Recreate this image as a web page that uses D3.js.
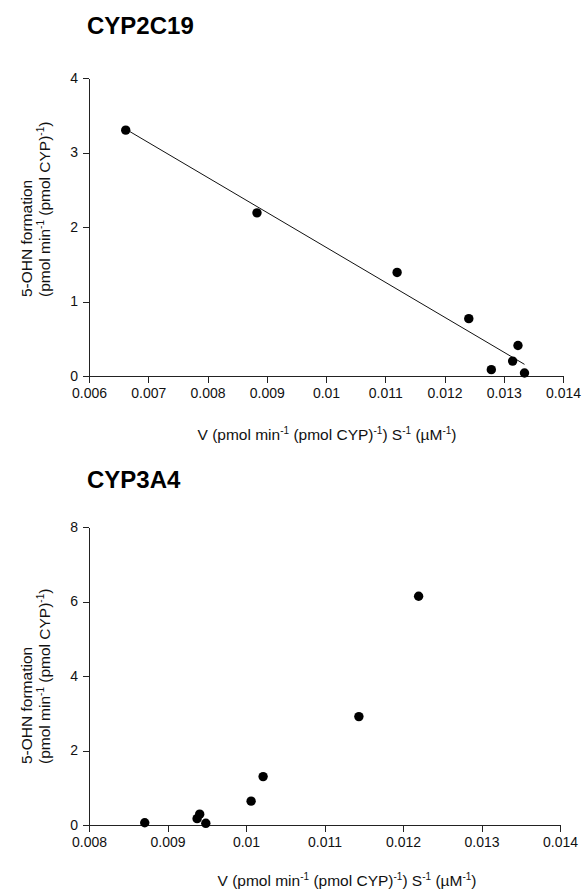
<!DOCTYPE html>
<html>
<head>
    <meta charset="utf-8">
    <style>
        body { margin: 0; background: #fff; }
        svg { font-family: 'Liberation Sans', Arial, sans-serif; }
        .axis path, .axis line { stroke: #222; stroke-width: 1; shape-rendering: crispEdges; }
        .axis text { font-size: 14px; fill: #111; }
        .title { font-size: 24px; font-weight: bold; fill: #000; }
        .lab { font-size: 15.5px; fill: #111; }
    </style>
</head>
<body>
<svg width="584" height="891"></svg>

<script src="https://d3js.org/d3.v7.min.js"></script>
<script>
    // CYP2C19 panel
    let x2c19 = [0.00662, 0.008835, 0.0112, 0.01241, 0.01324, 0.01315, 0.01279, 0.01335]
    let y2c19 = [3.30, 2.19, 1.39, 0.77, 0.41, 0.20, 0.085, 0.04]
    let xTicks2c19 = [0.006, 0.007, 0.008, 0.009, 0.01, 0.011, 0.012, 0.013, 0.014]
    let yTicks2c19 = [0, 1, 2, 3, 4]

    // CYP3A4 panel
    let x3a4 = [0.00871, 0.00941, 0.009377, 0.009488, 0.010065, 0.010218, 0.011438, 0.012199]
    let y3a4 = [0.06, 0.29, 0.17, 0.045, 0.64, 1.30, 2.91, 6.14]
    let xTicks3a4 = [0.008, 0.009, 0.01, 0.011, 0.012, 0.013, 0.014]
    let yTicks3a4 = [0, 2, 4, 6, 8]

    let svg = d3.select("svg")

    // label pieces, 1 = superscript
    let yLine2 = [["(pmol min", 0], ["-1", 1], [" (pmol CYP)", 0], ["-1", 1], [")", 0]]
    let xLabel = [["V (pmol min", 0], ["-1", 1], [" (pmol CYP)", 0], ["-1", 1], [") S", 0], ["-1", 1], [" (\u00b5M", 0], ["-1", 1], [")", 0]]

    function writeParts(txt, parts) {
        let raised = false
        parts.forEach(p => {
            let dy = 0
            if (p[1] && !raised) dy = -6
            if (!p[1] && raised) dy = 6
            raised = !!p[1]
            txt.append("tspan")
                .text(p[0])
                .style("font-size", p[1] ? "10px" : null)
                .attr("dy", dy)
        })
    }

    function drawPanel(cfg) {
        let x = d3.scaleLinear().domain(cfg.xDomain).range([89, cfg.xRight])
        let y = d3.scaleLinear().domain(cfg.yDomain).range([cfg.yBottom, cfg.yTop])

        let g = svg.append("g")

        g.append("g")
            .attr("class", "axis")
            .attr("transform", `translate(0,${cfg.yBottom})`)
            .call(d3.axisBottom(x).tickValues(cfg.xTicks).tickSize(7).tickSizeOuter(0).tickPadding(5)
                .tickFormat(d => String(+d.toFixed(3))))

        g.append("g")
            .attr("class", "axis")
            .attr("transform", "translate(89,0)")
            .call(d3.axisLeft(y).tickValues(cfg.yTicks).tickSize(6).tickSizeOuter(0).tickPadding(5)
                .tickFormat(d => String(d)))

        g.selectAll(".axis .domain").attr("fill", "none")

        g.append("text")
            .attr("class", "title")
            .attr("x", 87)
            .attr("y", cfg.titleY)
            .text(cfg.title)

        // y label, two lines, start anchored
        g.append("text")
            .attr("class", "lab")
            .attr("transform", `translate(32,${cfg.yLabStart}) rotate(-90)`)
            .text("5-OHN formation")
        let l2 = g.append("text")
            .attr("class", "lab")
            .attr("transform", `translate(50,${cfg.yLabStart}) rotate(-90)`)
        writeParts(l2, yLine2)

        let xl = g.append("text")
            .attr("class", "lab")
            .attr("text-anchor", "middle")
            .attr("x", cfg.xLabX)
            .attr("y", cfg.xLabY)
        writeParts(xl, xLabel)

        if (cfg.fit) {
            // least squares line
            let mx = d3.mean(cfg.xs), my = d3.mean(cfg.ys)
            let sxy = d3.sum(cfg.xs, (v, i) => (v - mx) * (cfg.ys[i] - my))
            let sxx = d3.sum(cfg.xs, v => (v - mx) * (v - mx))
            let slope = sxy / sxx
            let icpt = my - slope * mx
            let ext = d3.extent(cfg.xs)
            g.append("path")
                .datum(ext)
                .attr("d", d3.line().x(d => x(d)).y(d => y(icpt + slope * d)))
                .style("fill", "none")
                .style("stroke", "#111")
                .style("stroke-width", 1)
        }

        g.selectAll(".dot")
            .data(cfg.xs.map((v, i) => [v, cfg.ys[i]]))
            .join("circle")
            .attr("cx", d => x(d[0]))
            .attr("cy", d => y(d[1]))
            .attr("r", 4.7)
            .style("fill", "#000")
    }

    drawPanel({
        title: "CYP2C19", titleY: 34,
        xs: x2c19, ys: y2c19, xTicks: xTicks2c19, yTicks: yTicks2c19,
        xDomain: [0.006, 0.014], yDomain: [0, 4],
        xRight: 563, yTop: 78, yBottom: 376,
        yLabStart: 297, xLabX: 327, xLabY: 440, fit: true
    })

    drawPanel({
        title: "CYP3A4", titleY: 488,
        xs: x3a4, ys: y3a4, xTicks: xTicks3a4, yTicks: yTicks3a4,
        xDomain: [0.008, 0.014], yDomain: [0, 8],
        xRight: 560, yTop: 527, yBottom: 825,
        yLabStart: 764, xLabX: 347, xLabY: 886, fit: false
    })
</script>
</body>
</html>
